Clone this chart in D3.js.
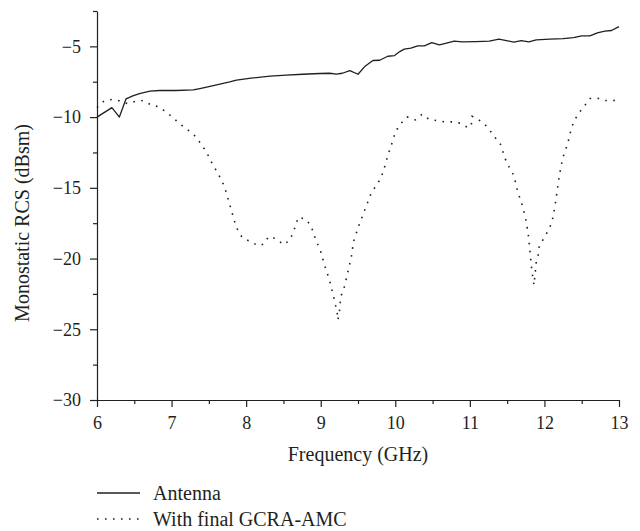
<!DOCTYPE html>
<html>
<head>
<meta charset="utf-8">
<script src="https://cdn.jsdelivr.net/npm/d3@7"></script>
<style>
  body { margin: 0; background: #fff; }
  svg text { font-family: "Liberation Serif", "DejaVu Serif", serif; fill: #231f20; }
</style>
</head>
<body>
<svg id="chart"></svg>
<script>
// Antenna alone (solid)
const antennaFreq = [6.0, 6.2, 6.3, 6.39, 6.48, 6.57, 6.71, 6.84, 7.06, 7.29, 7.38, 7.56, 7.78, 7.87, 8.09, 8.32,
  8.54, 8.76, 8.99, 9.12, 9.21, 9.29, 9.39, 9.5, 9.59, 9.7, 9.79, 9.9, 9.99, 10.06, 10.12, 10.21, 10.3, 10.39,
  10.49, 10.59, 10.7, 10.79, 10.9, 11.08, 11.26, 11.39, 11.49, 11.59, 11.69, 11.79, 11.89, 12.07, 12.25, 12.39,
  12.5, 12.61, 12.71, 12.81, 12.9, 13.0];
const antennaRcs = [-10.0, -9.33, -10.0, -8.71, -8.5, -8.34, -8.17, -8.12, -8.12, -8.08, -7.98, -7.77, -7.51, -7.39,
  -7.23, -7.11, -7.04, -6.97, -6.92, -6.9, -6.97, -6.9, -6.71, -6.97, -6.43, -6.0, -5.98, -5.7, -5.65, -5.37, -5.2,
  -5.13, -4.97, -4.97, -4.73, -4.9, -4.75, -4.63, -4.68, -4.66, -4.63, -4.49, -4.59, -4.7, -4.59, -4.68, -4.54,
  -4.49, -4.45, -4.38, -4.26, -4.26, -4.05, -3.93, -3.88, -3.6];

// with final GCRA-AMC (dotted)
const amcFreq = [6.0, 6.1, 6.2, 6.3, 6.41, 6.52, 6.62, 6.72, 6.83, 6.93, 7.03, 7.13, 7.23, 7.33, 7.4, 7.47, 7.52,
  7.58, 7.64, 7.69, 7.73, 7.79, 7.85, 7.89, 7.95, 8.06, 8.16, 8.24, 8.3, 8.41, 8.5, 8.58, 8.63, 8.7, 8.8, 8.87,
  8.94, 8.99, 9.05, 9.12, 9.17, 9.22, 9.23, 9.25, 9.27, 9.31, 9.36, 9.41, 9.44, 9.51, 9.59, 9.67, 9.73, 9.8,
  9.84, 9.9, 9.97, 10.0, 10.07, 10.16, 10.27, 10.36, 10.45, 10.56, 10.66, 10.77, 10.87, 10.98, 11.02, 11.03,
  11.1, 11.19, 11.26, 11.33, 11.41, 11.48, 11.53, 11.59, 11.64, 11.71, 11.76, 11.79, 11.81, 11.83, 11.86,
  11.88, 11.89, 11.92, 11.93, 11.99, 12.05, 12.1, 12.14, 12.17, 12.2, 12.24, 12.27, 12.31, 12.36, 12.4,
  12.46, 12.54, 12.61, 12.71, 12.82, 12.92, 13.0];
const amcRcs = [-9.33, -8.83, -8.76, -8.85, -9.04, -8.88, -8.83, -9.12, -9.28, -9.65, -10.1, -10.55, -10.95, -11.4,
  -11.94, -12.48, -13.05, -13.6, -14.16, -14.7, -15.27, -16.37, -17.48, -18.03, -18.54, -18.8, -19.09, -18.97,
  -18.45, -18.61, -19.02, -18.73, -18.19, -17.08, -17.22, -17.69, -18.78, -19.32, -20.45, -21.56, -22.64,
  -23.78, -24.34, -23.83, -22.67, -22.15, -21.04, -19.91, -18.8, -17.69, -16.58, -15.48, -14.94, -14.39,
  -13.83, -12.72, -11.61, -11.05, -10.48, -9.99, -10.2, -9.8, -10.15, -10.25, -10.34, -10.34, -10.43, -10.77,
  -10.53, -9.94, -10.13, -10.46, -10.88, -11.38, -11.92, -13.03, -13.57, -14.14, -15.24, -16.35, -17.46,
  -18.57, -19.68, -20.81, -21.87, -20.81, -20.24, -19.68, -19.13, -18.59, -18.03, -17.46, -16.35, -15.24,
  -14.14, -13.03, -12.48, -11.92, -10.81, -10.25, -9.73, -9.19, -8.69, -8.66, -8.83, -8.83, -8.8];

const xMajor = [6, 7, 8, 9, 10, 11, 12, 13];
const xMinor = [6.5, 7.5, 8.5, 9.5, 10.5, 11.5, 12.5];
const yMajor = [-30, -25, -20, -15, -10, -5];
const yMinor = [-27.5, -22.5, -17.5, -12.5, -7.5, -2.5];

const legendLabels = ["Antenna", "With final GCRA-AMC"];

const svgWidth = 640, svgHeight = 531;
const margin = { top: 11, right: 21, bottom: 131, left: 97 };
const width = svgWidth - margin.left - margin.right;
const height = svgHeight - margin.top - margin.bottom;
const ink = "#231f20";
const tickFont = 18, titleFont = 20;

const svg = d3.select("#chart")
    .attr("width", svgWidth)
    .attr("height", svgHeight);

const g = svg.append("g")
    .attr("transform", "translate(" + margin.left + "," + margin.top + ")");

const x = d3.scaleLinear().domain([6, 13]).range([0, width]);
const y = d3.scaleLinear().domain([-30, -2.5]).range([height, 0]);

// minor ticks first, then the labelled axes
g.append("g")
    .attr("transform", "translate(0," + height + ")")
    .call(d3.axisBottom(x).tickValues(xMinor).tickSize(4).tickSizeOuter(0).tickFormat(""))
    .call(a => a.select(".domain").remove());
g.append("g")
    .call(d3.axisLeft(y).tickValues(yMinor).tickSize(4).tickSizeOuter(0).tickFormat(""))
    .call(a => a.select(".domain").remove());

g.append("g")
    .attr("transform", "translate(0," + height + ")")
    .call(d3.axisBottom(x).tickValues(xMajor).tickSize(7).tickSizeOuter(0).tickPadding(9).tickFormat(d3.format("d")));
g.append("g")
    .call(d3.axisLeft(y).tickValues(yMajor).tickSize(7).tickSizeOuter(0).tickPadding(9).tickFormat(d3.format("d")));

g.selectAll(".tick line, .domain").attr("stroke", ink).attr("stroke-width", 1.2);
g.selectAll(".tick text").attr("font-size", tickFont).attr("font-family", "Liberation Serif").attr("fill", ink);

g.append("text")
    .attr("x", width / 2)
    .attr("y", height + 61)
    .attr("text-anchor", "middle")
    .attr("font-size", titleFont)
    .text("Frequency (GHz)");

g.append("text")
    .attr("transform", "rotate(-90)")
    .attr("x", -212)
    .attr("y", -68)
    .attr("text-anchor", "middle")
    .attr("font-size", titleFont)
    .text("Monostatic RCS (dBsm)");

const antenna = antennaFreq.map((f, i) => ({ f: f, v: antennaRcs[i] }));
const amc = amcFreq.map((f, i) => ({ f: f, v: amcRcs[i] }));

const line = d3.line()
    .x(d => x(d.f))
    .y(d => y(d.v));

g.append("path")
    .datum(amc)
    .attr("fill", "none")
    .attr("stroke", ink)
    .attr("stroke-width", 1.6)
    .attr("stroke-dasharray", "1.6,6.4")
    .attr("d", line);

g.append("path")
    .datum(antenna)
    .attr("fill", "none")
    .attr("stroke", ink)
    .attr("stroke-width", 1.3)
    .attr("stroke-linejoin", "round")
    .attr("d", line);

// legend
const legend = svg.append("g").attr("transform", "translate(97,493)");
legendLabels.forEach((name, i) => {
    const row = legend.append("g").attr("transform", "translate(0," + (i * 26) + ")");
    row.append("line")
        .attr("x1", 0).attr("x2", 43)
        .attr("y1", 0).attr("y2", 0)
        .attr("stroke", ink)
        .attr("stroke-width", i === 0 ? 1.3 : 1.6)
        .attr("stroke-dasharray", i === 0 ? null : "1.6,6.4");
    row.append("text")
        .attr("x", 56)
        .attr("y", 0)
        .attr("dy", "0.35em")
        .attr("font-size", titleFont)
        .text(name);
});
</script>
</body>
</html>
